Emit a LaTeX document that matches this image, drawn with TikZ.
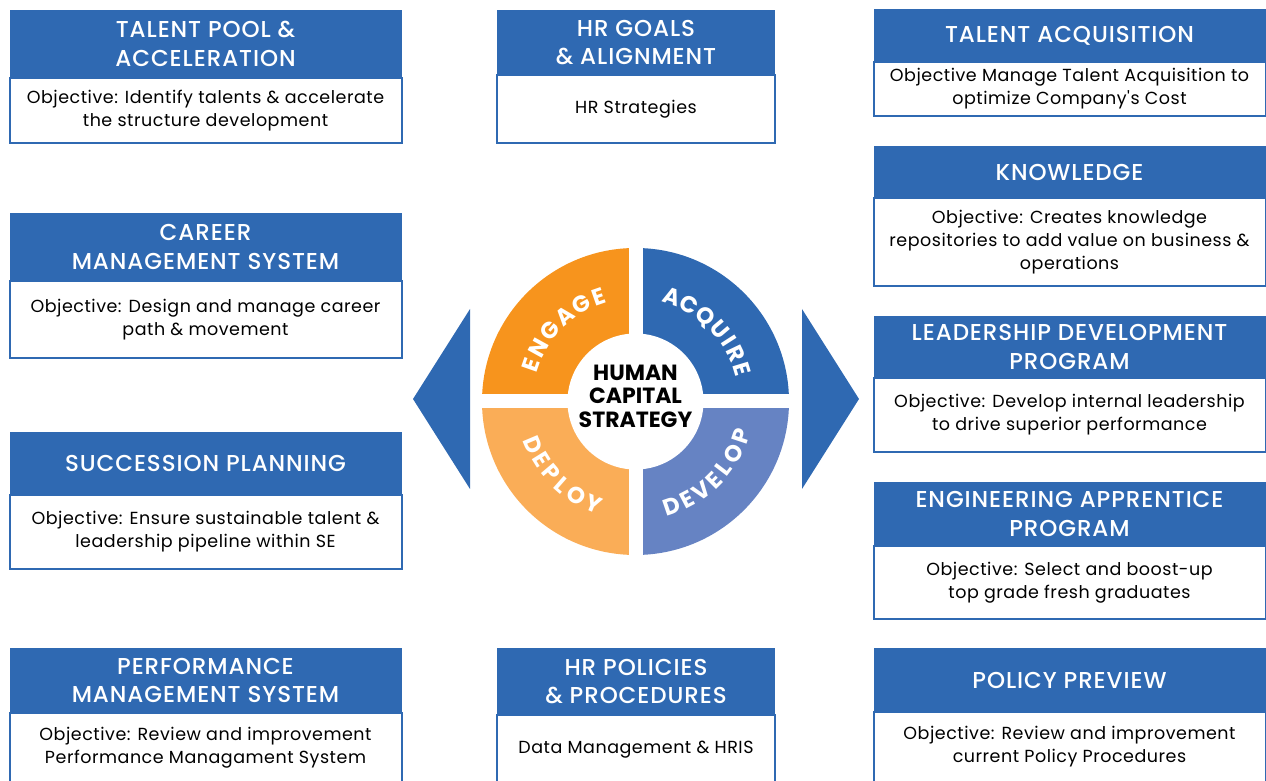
\documentclass[tikz,border=0pt]{standalone}
\usepackage{fontspec}
\setmainfont{Poppins}
\newfontfamily\titlefont{Poppins}[UprightFont=*-Medium, LetterSpace=4]
\newfontfamily\bodyfont{Poppins}[LetterSpace=3]
\usetikzlibrary{positioning}
\definecolor{hrblue}{HTML}{2F69B2}
\definecolor{engage}{HTML}{F7941D}
\definecolor{deploy}{HTML}{FAAD57}
\definecolor{develop}{HTML}{6683C3}

\tikzset{
  header/.style={fill=hrblue, text=white, align=center, inner sep=0pt, outer sep=0pt,
    font=\titlefont\fontsize{23}{28.5}\selectfont},
  objective/.style={draw=hrblue, line width=2pt, fill=white, align=center, inner sep=0pt,
    outer sep=0pt, font=\bodyfont\fontsize{17.5}{23}\selectfont},
  wide/.style={minimum width=392pt},
  narrow/.style={minimum width=278pt},
  ringletter/.style={text=white, inner sep=0pt, text height=16pt, text depth=0pt,
    font=\fontsize{23}{23}\selectfont\bfseries},
  hub/.style={align=center, inner sep=0pt, font=\fontsize{22}{23.5}\selectfont\bfseries}
}

\begin{document}
\begin{tikzpicture}[x=1pt, y=1pt]
    \useasboundingbox (0,0) rectangle (1266,781);
    \clip (0,0) rectangle (1266,781);
    % LEFT COLUMN
    \node[header, wide, minimum height=68pt] (poolHead) at (205.5,737) {TALENT POOL \&\\ACCELERATION};
    \node[objective, wide, minimum height=65pt, below=0pt of poolHead] (poolBody) {Objective: Identify talents \& accelerate\\the structure development};
    \node[header, wide, minimum height=68pt] (careerHead) at (205.5,534) {CAREER\\MANAGEMENT SYSTEM};
    \node[objective, wide, minimum height=77pt, below=0pt of careerHead] (careerBody) {Objective: Design and manage career\\path \& movement};
    \node[header, wide, minimum height=63pt] (succHead) at (205.5,317.5) {SUCCESSION PLANNING};
    \node[objective, wide, minimum height=74pt, below=0pt of succHead] (succBody) {Objective: Ensure sustainable talent \&\\leadership pipeline within SE};
    \node[header, wide, minimum height=65pt] (perfHead) at (205.5,100.5) {PERFORMANCE\\MANAGEMENT SYSTEM};
    \node[objective, wide, minimum height=70pt, below=0pt of perfHead] (perfBody) {Objective: Review and improvement\\Performance Managament System};
    % MIDDLE COLUMN
    \node[header, narrow, minimum height=65pt] (goalsHead) at (636,738.5) {HR GOALS\\\& ALIGNMENT};
    \node[objective, narrow, minimum height=68pt, below=0pt of goalsHead] (goalsBody) {HR Strategies};
    \node[header, narrow, minimum height=67pt] (policiesHead) at (636,99.5) {HR POLICIES\\\& PROCEDURES};
    \node[objective, narrow, minimum height=70pt, below=0pt of policiesHead] (policiesBody) {Data Management \& HRIS};
    % RIGHT COLUMN
    \node[header, wide, minimum height=53pt] (acqHead) at (1069.5,745.5) {TALENT ACQUISITION};
    \node[objective, wide, minimum height=54pt, below=0pt of acqHead] (acqBody) {Objective Manage Talent Acquisition to\\optimize Company's Cost};
    \node[header, wide, minimum height=52pt] (knowHead) at (1069.5,609) {KNOWLEDGE};
    \node[objective, wide, minimum height=88pt, below=0pt of knowHead] (knowBody) {Objective: Creates knowledge\\repositories to add value on business \&\\operations};
    \node[header, wide, minimum height=62pt] (leadHead) at (1069.5,434) {LEADERSHIP DEVELOPMENT\\PROGRAM};
    \node[objective, wide, minimum height=74pt, below=0pt of leadHead] (leadBody) {Objective: Develop internal leadership\\to drive superior performance};
    \node[header, wide, minimum height=64pt] (engHead) at (1069.5,267) {ENGINEERING APPRENTICE\\PROGRAM};
    \node[objective, wide, minimum height=73pt, below=0pt of engHead] (engBody) {Objective: Select and boost-up\\top grade fresh graduates};
    \node[header, wide, minimum height=64pt] (prevHead) at (1069.5,101) {POLICY PREVIEW};
    \node[objective, wide, minimum height=70pt, below=0pt of prevHead] (prevBody) {Objective: Review and improvement\\current Policy Procedures};
    % SIDE ARROWS
    \fill[hrblue] (470,472) -- (413,382) -- (470,292) -- cycle;
    \fill[hrblue] (802,472) -- (859,382) -- (802,292) -- cycle;
    % RING
    \coordinate (C) at (635.5,379.5);
    \fill[engage] (C) -- ++(180:153.5pt) arc (180:90:153.5pt) -- cycle;
    \fill[hrblue] (C) -- ++(90:153.5pt) arc (90:0:153.5pt) -- cycle;
    \fill[develop] (C) -- ++(0:153.5pt) arc (0:-90:153.5pt) -- cycle;
    \fill[deploy] (C) -- ++(270:153.5pt) arc (270:180:153.5pt) -- cycle;
    \draw[white, line width=14pt] (C) ++(-160,0) -- ++(320,0);
    \draw[white, line width=14pt] (C) ++(0,-160) -- ++(0,320);
    \fill[white] (C) circle (68pt);
    % LETTERS ON THE RING
    \foreach \ch/\a in {E/160.7, N/151.1, G/140.3, A/129.7, G/119.1, E/109.3,
                        A/71.0, C/61.0, Q/50.6, U/40.2, I/32.8, R/25.6, E/16.8}
      \path (C) ++(\a:111pt) node[ringletter, rotate=\a-90] {\ch};
    \foreach \ch/\a in {D/202.9, E/211.8, P/220.3, L/228.6, O/237.8, Y/247.6,
                        D/288.9, E/297.7, V/306.3, E/315.0, L/322.8, O/331.9, P/341.6}
      \path (C) ++(\a:111pt) node[ringletter, rotate=\a+90] {\ch};
    \node[hub] (hubText) at (635.5,385) {HUMAN\\CAPITAL\\STRATEGY};
\end{tikzpicture}
\end{document}
